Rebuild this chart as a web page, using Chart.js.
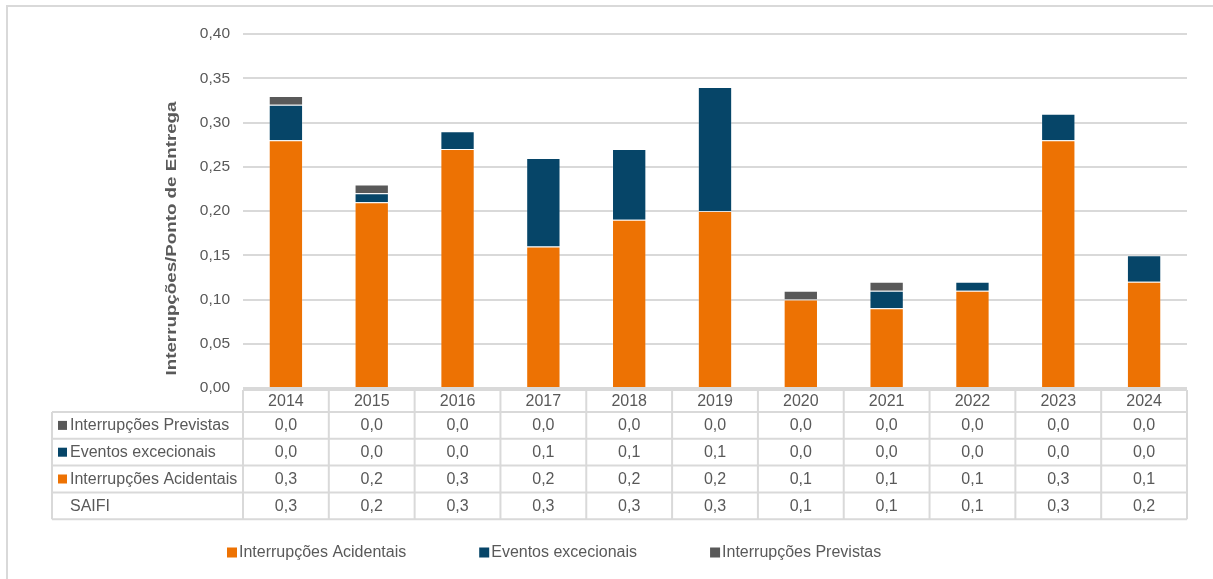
<!DOCTYPE html>
<html>
<head>
<meta charset="utf-8">
<style>
  html, body { margin: 0; padding: 0; background: #fff; }
  #wrap { position: relative; width: 1213px; height: 579px; }
</style>
<script src="https://cdn.jsdelivr.net/npm/chart.js@4.4.1/dist/chart.umd.min.js"></script>
</head>
<body>
<div id="wrap"><canvas id="c" width="1213" height="579"></canvas></div>
<script>
// Anos e componentes do SAIFI (interrupções por ponto de entrega)
const years = ['2014', '2015', '2016', '2017', '2018', '2019', '2020', '2021', '2022', '2023', '2024'];
const acidentais = [0.28, 0.21, 0.27, 0.16, 0.19, 0.20, 0.10, 0.09, 0.11, 0.28, 0.12];
const excecionais = [0.04, 0.01, 0.02, 0.10, 0.08, 0.14, 0.00, 0.02, 0.01, 0.03, 0.03];
const previstas = [0.01, 0.01, 0.00, 0.00, 0.00, 0.00, 0.01, 0.01, 0.00, 0.00, 0.00];
const saifi = [0.33, 0.23, 0.29, 0.26, 0.27, 0.34, 0.11, 0.12, 0.12, 0.31, 0.15];

const yMin = 0, yMax = 0.40, yStep = 0.05;
const yTitle = 'Interrupções/Ponto de Entrega';

const FONT = '"Liberation Sans", Arial, sans-serif';
const TEXT = '#595959';
const LINE = '#D9D9D9';
const ORANGE = '#ED7203';
const BLUE = '#064568';
const GREY = '#595959';

const fmt1 = v => (Math.round(v * 10) / 10).toFixed(1).replace('.', ',');
const fmt2 = v => v.toFixed(2).replace('.', ',');

// Frame, data table under the axis, rotated axis title and the legend
const decorations = {
  id: 'decorations',
  beforeDraw(chart) {
    const ctx = chart.ctx;
    ctx.save();
    ctx.fillStyle = '#fff';
    ctx.fillRect(0, 0, chart.width, chart.height);
    ctx.strokeStyle = LINE;
    ctx.lineWidth = 2;
    ctx.strokeRect(7, 6, chart.width + 40, chart.height + 40);
    ctx.restore();
  },
  afterDraw(chart) {
    const ctx = chart.ctx;
    const xs = chart.scales.x;
    const area = chart.chartArea;
    const n = years.length;
    const colW = (area.right - area.left) / n;
    const tableLeft = 52;
    const headTop = area.bottom + 2;
    const headBot = headTop + 22;
    const rowH = 26.8;

    const rows = [
      { label: 'Interrupções Previstas', swatch: GREY, values: previstas },
      { label: 'Eventos excecionais', swatch: BLUE, values: excecionais },
      { label: 'Interrupções Acidentais', swatch: ORANGE, values: acidentais },
      { label: 'SAIFI', swatch: null, values: saifi }
    ];
    const bottom = headBot + rows.length * rowH;

    ctx.save();
    ctx.strokeStyle = LINE;
    ctx.lineWidth = 2;
    ctx.beginPath();
    ctx.moveTo(area.left, headTop);
    ctx.lineTo(area.right, headTop);
    for (let r = 0; r <= rows.length; r++) {
      const y = headBot + r * rowH;
      ctx.moveTo(tableLeft, y);
      ctx.lineTo(area.right, y);
    }
    for (let k = 0; k <= n; k++) {
      const x = area.left + k * colW;
      ctx.moveTo(x, headTop);
      ctx.lineTo(x, bottom);
    }
    ctx.moveTo(tableLeft, headBot);
    ctx.lineTo(tableLeft, bottom);
    ctx.stroke();

    ctx.fillStyle = TEXT;
    ctx.font = '16px ' + FONT;
    ctx.textBaseline = 'middle';
    ctx.textAlign = 'center';
    years.forEach((yr, i) => {
      ctx.fillText(yr, xs.getPixelForValue(i), (headTop + headBot) / 2 + 1);
    });
    rows.forEach((row, r) => {
      const cy = headBot + r * rowH + rowH / 2 + 0.5;
      ctx.textAlign = 'left';
      if (row.swatch) {
        ctx.fillStyle = row.swatch;
        ctx.fillRect(58, cy - 5, 9, 9);
      }
      ctx.fillStyle = TEXT;
      ctx.fillText(row.label, 70, cy);
      ctx.textAlign = 'center';
      row.values.forEach((v, i) => {
        ctx.fillText(fmt1(v), xs.getPixelForValue(i), cy);
      });
    });

    // Axis title, rotated
    ctx.save();
    ctx.font = 'bold 15.5px ' + FONT;
    const tw = ctx.measureText(yTitle).width;
    ctx.translate(172, 238.5);
    ctx.rotate(-Math.PI / 2);
    ctx.scale(274 / tw, 1);
    ctx.textAlign = 'center';
    ctx.textBaseline = 'middle';
    ctx.fillStyle = TEXT;
    ctx.fillText(yTitle, 0, 0);
    ctx.restore();

    // Legend
    ctx.font = '16px ' + FONT;
    ctx.textAlign = 'left';
    ctx.textBaseline = 'middle';
    let lx = 227;
    const ly = 552.5;
    chart.data.datasets.forEach(ds => {
      ctx.fillStyle = ds.backgroundColor;
      ctx.fillRect(lx, ly - 5, 10, 10);
      const w = ctx.measureText(ds.label).width;
      ctx.fillStyle = TEXT;
      ctx.fillText(ds.label, lx + 12, ly);
      lx += 12 + w + 73;
    });
    ctx.restore();
  }
};

const barStyle = { borderWidth: 1, borderColor: 'rgba(255,255,255,0.2)', categoryPercentage: 1, barPercentage: 0.40 };

new Chart(document.getElementById('c'), {
  type: 'bar',
  data: {
    labels: years,
    datasets: [
      Object.assign({ label: 'Interrupções Acidentais', data: acidentais, backgroundColor: ORANGE }, barStyle),
      Object.assign({ label: 'Eventos excecionais', data: excecionais, backgroundColor: BLUE }, barStyle),
      Object.assign({ label: 'Interrupções Previstas', data: previstas, backgroundColor: GREY }, barStyle)
    ]
  },
  options: {
    responsive: false,
    animation: false,
    devicePixelRatio: 1,
    layout: { padding: { left: 0, right: 26, top: 34, bottom: 191 } },
    plugins: { legend: { display: false }, tooltip: { enabled: false } },
    scales: {
      x: { stacked: true, display: false },
      y: {
        stacked: true,
        min: yMin,
        max: yMax,
        afterFit(scale) { scale.width = 243; },
        border: { display: false },
        grid: { color: LINE, lineWidth: 2, drawTicks: false },
        ticks: {
          stepSize: yStep,
          padding: 13,
          color: TEXT,
          font: { family: FONT, size: 15.5 },
          callback: v => fmt2(v)
        }
      }
    }
  },
  plugins: [decorations]
});
</script>
</body>
</html>
